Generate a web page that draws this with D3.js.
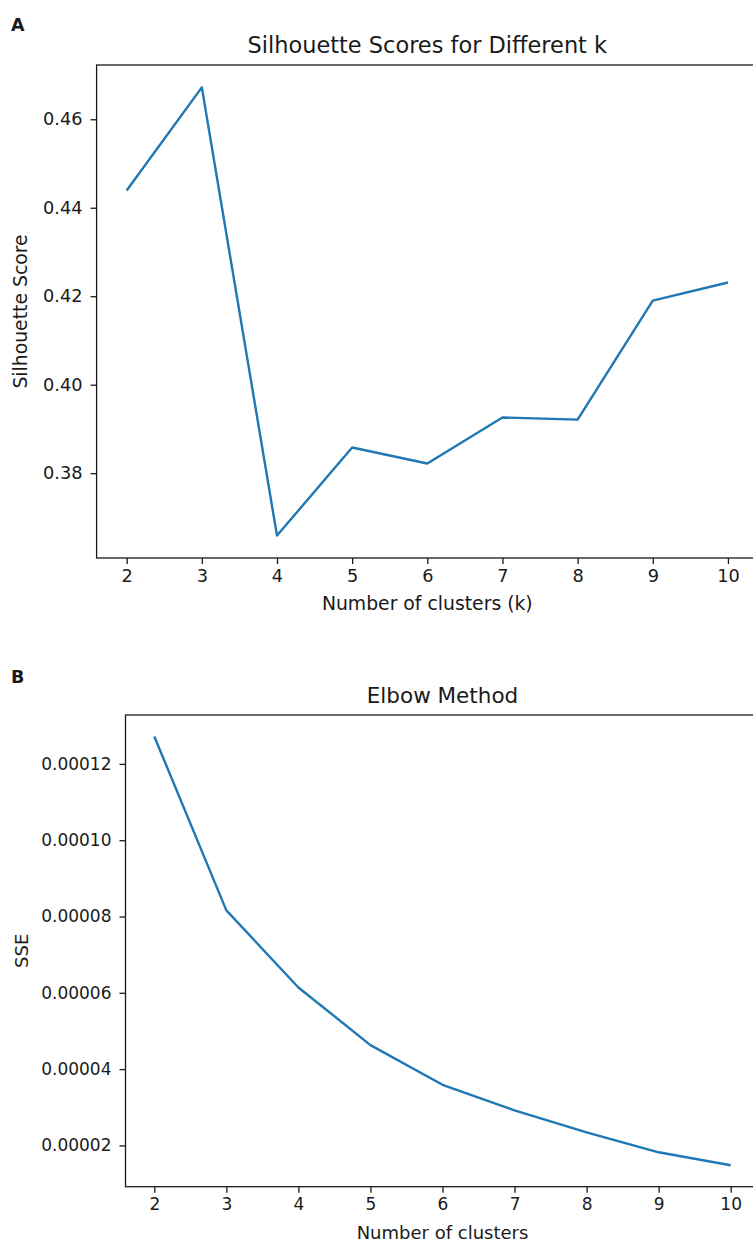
<!DOCTYPE html>
<html>
<head>
<meta charset="utf-8">
<script src="https://cdn.jsdelivr.net/npm/d3@7"></script>
<style>
  html, body { margin: 0; padding: 0; background: #fff; }
  svg { display: block; }
  text { font-family: "DejaVu Sans", sans-serif; fill: #1a1a1a; }
</style>
</head>
<body>
<svg id="chart" width="753" height="1244"></svg>
<script>
// ---- data ----
const kValues = [2, 3, 4, 5, 6, 7, 8, 9, 10];
const silhouetteScores = [0.4439, 0.4672, 0.3659, 0.3858, 0.3822, 0.3926, 0.3921, 0.4190, 0.4231];
const sseValues = [0.0001272, 0.0000816, 0.0000614, 0.0000463, 0.0000359, 0.0000292, 0.0000234, 0.0000182, 0.0000148];
const silhouetteTicks = [0.38, 0.40, 0.42, 0.44, 0.46];
const sseTicks = [0.00002, 0.00004, 0.00006, 0.00008, 0.00010, 0.00012];
const xTicks = [2, 3, 4, 5, 6, 7, 8, 9, 10];

const svg = d3.select("#chart");
const lineColor = "#1f77b4";

function padDomain(vals) {
  const lo = d3.min(vals), hi = d3.max(vals), p = (hi - lo) * 0.05;
  return [lo - p, hi + p];
}

function panel(cfg) {
  const s = cfg.scale;
  const g = svg.append("g");
  const x = d3.scaleLinear().domain(padDomain(cfg.xs)).range([cfg.left, cfg.right]);
  const y = d3.scaleLinear().domain(padDomain(cfg.ys)).range([cfg.bottom, cfg.top]);

  const xa = g.append("g").attr("transform", `translate(0,${cfg.bottom})`)
    .call(d3.axisBottom(x).tickValues(xTicks).tickSize(6).tickPadding(5).tickFormat(d3.format("d")));
  const ya = g.append("g").attr("transform", `translate(${cfg.left},0)`)
    .call(d3.axisLeft(y).tickValues(cfg.yTicks).tickSize(6).tickPadding(8).tickFormat(d3.format(cfg.fmt)));
  [xa, ya].forEach(a => {
    a.select(".domain").remove();
    a.selectAll(".tick line").attr("stroke", "#1a1a1a").attr("stroke-width", 1.3);
    a.selectAll(".tick text").attr("font-size", 17 * s).attr("font-family", "DejaVu Sans").attr("fill", "#1a1a1a");
  });

  g.append("rect")
    .attr("x", cfg.left).attr("y", cfg.top)
    .attr("width", cfg.right - cfg.left).attr("height", cfg.bottom - cfg.top)
    .attr("fill", "none").attr("stroke", "#1a1a1a").attr("stroke-width", 1.3);

  const line = d3.line().x((d, i) => x(cfg.xs[i])).y(d => y(d));
  g.append("path").datum(cfg.ys)
    .attr("d", line).attr("fill", "none")
    .attr("stroke", lineColor).attr("stroke-width", 2.4)
    .attr("stroke-linejoin", "round").attr("stroke-linecap", "butt");

  const cx = (cfg.left + cfg.right) / 2;
  g.append("text").attr("x", cx).attr("y", cfg.top - 12)
    .attr("text-anchor", "middle").attr("font-size", 21.5 * s).text(cfg.title);
  g.append("text").attr("x", cx).attr("y", cfg.bottom + 52)
    .attr("text-anchor", "middle").attr("font-size", 18 * s).text(cfg.xLabel);
  g.append("text")
    .attr("transform", `translate(${cfg.yLabelX},${(cfg.top + cfg.bottom) / 2}) rotate(-90)`)
    .attr("text-anchor", "middle").attr("font-size", 18 * s).text(cfg.yLabel);
  g.append("text").attr("x", 11).attr("y", cfg.letterY)
    .attr("font-family", "Liberation Sans, Arial, sans-serif").attr("font-weight", "bold")
    .attr("font-size", 17.5).text(cfg.letter);
}

panel({
  xs: kValues, ys: silhouetteScores, yTicks: silhouetteTicks, fmt: ".2f",
  left: 96.6, right: 758, top: 65, bottom: 558, scale: 1.045,
  title: "Silhouette Scores for Different k",
  xLabel: "Number of clusters (k)", yLabel: "Silhouette Score",
  yLabelX: 27, letter: "A", letterY: 31
});

panel({
  xs: kValues, ys: sseValues, yTicks: sseTicks, fmt: ".5f",
  left: 125.5, right: 759.5, top: 715, bottom: 1186.7, scale: 1,
  title: "Elbow Method",
  xLabel: "Number of clusters", yLabel: "SSE",
  yLabelX: 28, letter: "B", letterY: 683
});
</script>
</body>
</html>
